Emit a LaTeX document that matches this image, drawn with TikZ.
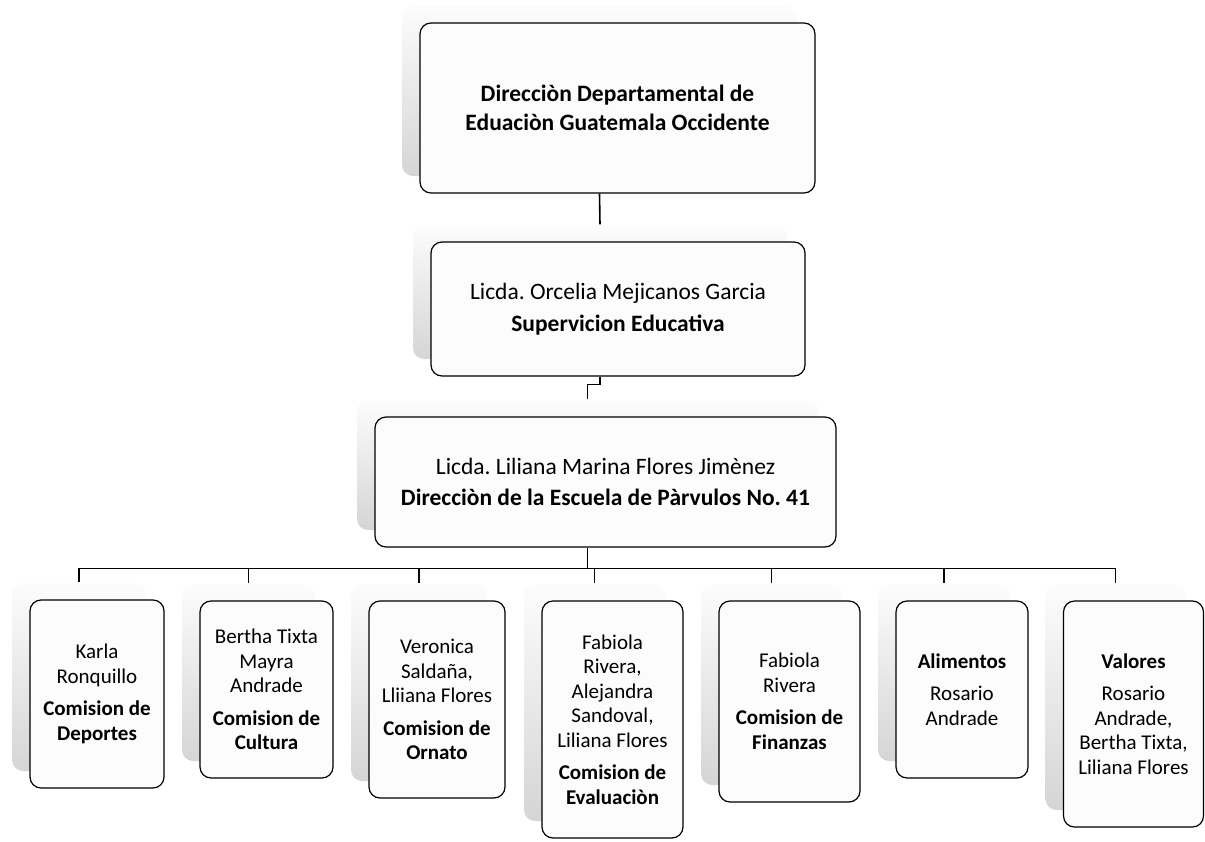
\documentclass[tikz,border=0pt]{standalone}
\usepackage{fontspec}
\setmainfont{Carlito}
\usepackage{tikz}
\usetikzlibrary{shadows,positioning}
\frenchspacing

\begin{document}
\begin{tikzpicture}[x=1pt, y=-1pt,
    org box/.style={draw, rounded corners=11pt, line width=1.2pt, fill=gray!2, align=center, inner sep=2pt,
        general shadow={shadow xshift=-18pt, shadow yshift=17pt, draw=none, top color=gray!2, bottom color=gray!33}},
    big text/.style={font=\fontsize{23.5}{28.5}\selectfont},
    small text/.style={font=\fontsize{21}{24.5}\selectfont},
    conn/.style={line width=1.6pt}]
    \useasboundingbox (0,0) rectangle (1205,841);

    \node[org box, big text, minimum width=395pt, minimum height=170pt] (dir) at (617.5,108) {\textbf{Direcciòn Departamental de}\\\textbf{Eduaciòn Guatemala Occidente}};
    \node[org box, big text, minimum width=374pt, minimum height=134pt] (sup) at (618,309) {Licda. Orcelia Mejicanos Garcia\\[3pt]\textbf{Supervicion Educativa}};
    \node[org box, big text, minimum width=461pt, minimum height=130pt] (esc) at (605.5,482) {Licda. Liliana Marina Flores Jimènez\\[3pt]\textbf{Direcciòn de la Escuela de Pàrvulos No. 41}};

    % comisiones
    \node[org box, small text, minimum width=134pt, minimum height=188pt] (dep) at (97,694) {Karla\\Ronquillo\\[8pt]\textbf{Comision de}\\\textbf{Deportes}};
    \node[org box, small text, minimum width=133pt, minimum height=177pt] (cul) at (266.5,689.5) {Bertha Tixta\\Mayra\\Andrade\\[8pt]\textbf{Comision de}\\\textbf{Cultura}};
    \node[org box, small text, minimum width=136pt, minimum height=197pt] (orn) at (437,699.5) {Veronica\\Saldaña,\\Lliiana Flores\\[8pt]\textbf{Comision de}\\\textbf{Ornato}};
    \node[org box, small text, minimum width=141pt, minimum height=237pt] (eva) at (612.5,719.5) {Fabiola\\Rivera,\\Alejandra\\Sandoval,\\Liliana Flores\\[8pt]\textbf{Comision de}\\\textbf{Evaluaciòn}};
    \node[org box, small text, minimum width=141pt, minimum height=201pt] (fin) at (789.5,701.5) {Fabiola\\Rivera\\[8pt]\textbf{Comision de}\\\textbf{Finanzas}};
    \node[org box, small text, minimum width=132pt, minimum height=177pt] (ali) at (962,689.5) {\textbf{Alimentos}\\[8pt]Rosario\\Andrade};
    \node[org box, small text, minimum width=140pt, minimum height=226pt] (val) at (1133.5,714) {\textbf{Valores}\\[8pt]Rosario\\Andrade,\\Bertha Tixta,\\Liliana Flores};

    \draw[conn] ([xshift=-18pt]dir.south) -- ([xshift=-18pt,yshift=17pt]sup.north);
    \draw[conn] ([xshift=-18pt]sup.south) -- ++(0,8) -| ([xshift=-18pt,yshift=17pt]esc.north);
    \draw[conn] ([xshift=-18pt]esc.south) -- ++(0,21) coordinate (bus);
    \foreach \c in {dep,cul,orn,eva,fin,ali,val}
        \draw[conn] (bus) -| ([xshift=-18pt,yshift=17pt]\c.north);

\end{tikzpicture}
\end{document}
